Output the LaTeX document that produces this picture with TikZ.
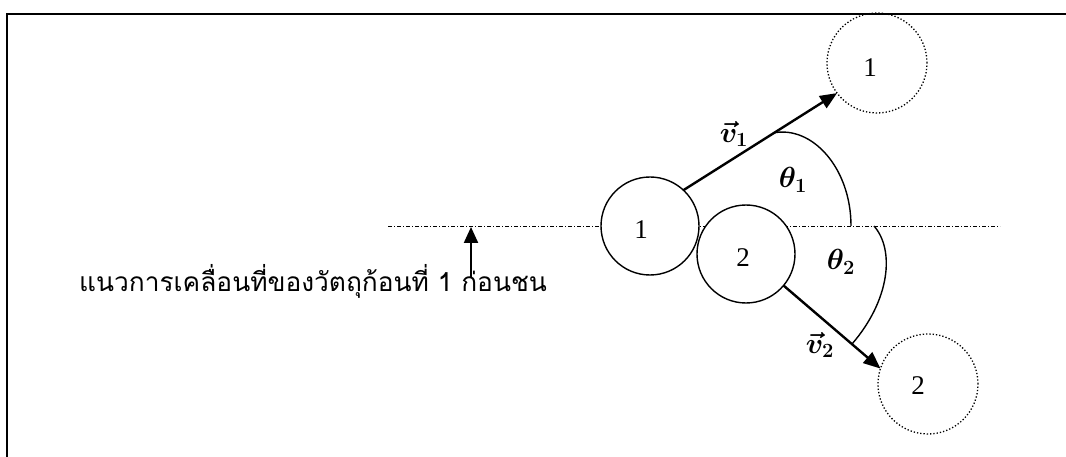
\documentclass[tikz,border=0pt]{standalone}
\usepackage{graphicx}
\usepackage{fontspec}
\usepackage{bm}
\setmainfont{Liberation Serif}
\newfontfamily\thaifont[Script=Thai]{Loma}
\usetikzlibrary{arrows.meta, positioning, calc}
\newcommand{\biglbl}[1]{\scalebox{1.4}{\huge$\bm{#1}$}}
\tikzset{
    % Bodies
    ball/.style={circle, draw, line width=1.4pt, fill=white,
                minimum size=98pt, inner sep=0pt, outer sep=0pt},
    ghost/.style={circle, draw, line width=1.3pt, dash pattern=on 1.3pt off 2pt,
                minimum size=100pt, inner sep=0pt, outer sep=0pt},
    numlbl/.style={font=\fontsize{27}{31}\selectfont},
    % Velocities and angles
    varrow/.style={-{Triangle[length=17pt, width=14pt]}, line width=2.4pt},
    vlbl/.style={inner sep=0pt},
    anglearc/.style={line width=1.4pt},
    % Path before collision
    pathline/.style={line width=0.6pt, dash pattern=on 4pt off 2pt on 1pt off 2pt},
    parrow/.style={-{Triangle[length=16pt, width=14pt]}, line width=2.2pt},
}
\begin{document}
\begin{tikzpicture}[x=1pt, y=-1pt]
\useasboundingbox (0,0) rectangle (1066,457);
\begin{scope}
\clip (0,0) rectangle (1066,457);
\draw[line width=2.2pt] (7,14) rectangle (1080,470);
\end{scope}

\coordinate (pathL) at (388,226);
\coordinate (pathR) at (1000,226);
\draw[pathline] (pathL) -- (pathR);

\node[ball]  (c1) at (650,226) {};
\node[ball]  (c2) at (746,254) {};
\node[ghost] (d1) at (877,63)  {};
\node[ghost] (d2) at (928,384) {};

\node[numlbl] (n1) at (641,230) {1};
\node[numlbl] (n2) at (743,258) {2};
\node[numlbl] (m1) at (870,68)  {1};
\node[numlbl] (m2) at (918,386) {2};

\draw[varrow] (c1.47) -- (d1.217);
\draw[varrow] (c2.320) -- (d2.162);

\draw[anglearc] (773,133) .. controls (812,125) and (851,168) .. (851,226);
\draw[anglearc] (874,226) .. controls (895,250) and (890,300) .. (852,344);

\node[vlbl] (v1) at (734,134) {\biglbl{\vec{v}_1}};
\node[vlbl] (t1) at (793,180) {\biglbl{\theta_1}};
\node[vlbl] (t2) at (841,262) {\biglbl{\theta_2}};
\node[vlbl] (v2) at (820,345) {\biglbl{\vec{v}_2}};

\node[anchor=base west, inner sep=0pt, font=\thaifont\fontsize{26.3}{30}\selectfont] (note) at (79,291)
    {แนวการเคลื่อนที่ของวัตถุก้อนที่ 1 ก่อนชน};
\coordinate (tail) at (471,277);
\coordinate (tip)  at (471,227);
\draw[parrow] (tail) -- (tip);
\end{tikzpicture}
\end{document}
